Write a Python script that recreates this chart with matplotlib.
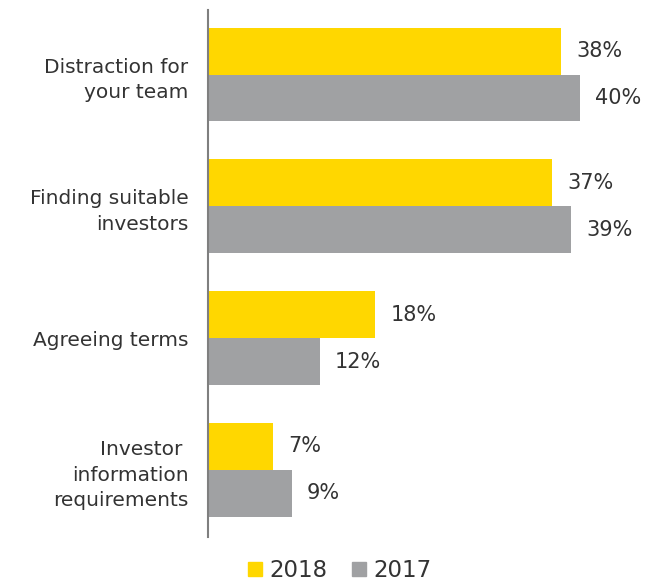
import matplotlib.pyplot as plt
from matplotlib.patches import Patch
import numpy as np

plt.rcParams['font.family'] = ['DejaVu Sans']

categories = ["Distraction for\nyour team", "Finding suitable\ninvestors",
              "Agreeing terms", "Investor \ninformation\nrequirements"]
vals_2018 = [38, 37, 18, 7]
vals_2017 = [40, 39, 12, 9]

yellow = '#FFD700'
grey = '#A0A1A3'
txt = '#333333'

fig = plt.figure(figsize=(6.6, 5.85), dpi=100)
ax = fig.add_axes([208 / 660, 1 - 537 / 585, 452 / 660, 527 / 585])

y = np.arange(len(categories))
h = 0.356
ax.barh(y - h / 2, vals_2018, height=h, color=yellow)
ax.barh(y + h / 2, vals_2017, height=h, color=grey)

# value labels to the right of each bar
for yy, v in zip(y - h / 2, vals_2018):
    ax.annotate(f"{v}%", (v, yy), xytext=(11, 0), textcoords='offset points',
                va='center', ha='left', fontsize=15, color=txt)
for yy, v in zip(y + h / 2, vals_2017):
    ax.annotate(f"{v}%", (v, yy), xytext=(11, 0), textcoords='offset points',
                va='center', ha='left', fontsize=15, color=txt)

ax.set_xlim(0, 48.6)
ax.set_ylim(3.51, -0.49)
ax.set_yticks(y)
ax.set_yticklabels(categories, fontsize=14.5, color=txt, linespacing=1.45)
ax.tick_params(axis='y', length=0, pad=14)
ax.set_xticks([])

for s in ['top', 'right', 'bottom']:
    ax.spines[s].set_visible(False)
ax.spines['left'].set_color('#7F7F7F')
ax.spines['left'].set_linewidth(1.5)

handles = [Patch(color=yellow, label='2018'), Patch(color=grey, label='2017')]
fig.legend(handles=handles, loc='center', bbox_to_anchor=(0.515, 0.025), ncol=2,
           frameon=False, fontsize=16.5, handlelength=0.6, handleheight=0.6,
           handletextpad=0.3, columnspacing=1.1, labelcolor=txt,
           borderaxespad=0, borderpad=0)

fig.savefig('out.png', dpi=100)
